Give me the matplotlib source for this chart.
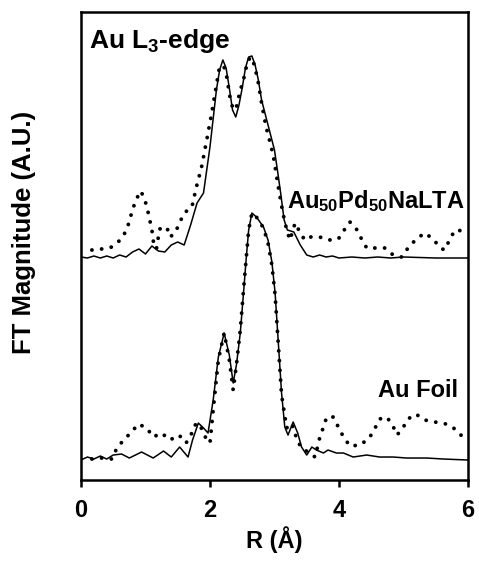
import matplotlib
matplotlib.use("Agg")
import matplotlib.pyplot as plt

plt.rcParams['font.family'] = ['Liberation Sans', 'DejaVu Sans']
plt.rcParams['font.weight'] = 'bold'
plt.rcParams['mathtext.fontset'] = 'custom'
plt.rcParams['mathtext.rm'] = 'Liberation Sans:bold'
plt.rcParams['mathtext.bf'] = 'Liberation Sans:bold'
plt.rcParams['mathtext.it'] = 'Liberation Sans:bold'

# Au50Pd50NaLTA (upper, offset) - solid and dotted traces
r_pd_solid = [0.0, 0.1, 0.2, 0.3, 0.4, 0.5, 0.6, 0.7, 0.8, 0.9, 1.0, 1.1, 1.2, 1.3,
              1.4, 1.5, 1.6, 1.7, 1.8, 1.9, 2.0, 2.1, 2.15, 2.2, 2.25, 2.3, 2.35,
              2.4, 2.45, 2.5, 2.55, 2.6, 2.65, 2.7, 2.75, 2.8, 2.9, 3.0, 3.05, 3.1,
              3.15, 3.2, 3.3, 3.4, 3.5, 3.6, 3.7, 3.8, 3.9, 4.0, 4.2, 4.4, 4.6, 4.8,
              5.0, 5.5, 6.0]
y_pd_solid = [0.00, -0.01, 0.01, -0.01, 0.01, -0.01, 0.02, 0.00, 0.05, 0.08, 0.03,
              0.11, 0.06, 0.05, 0.12, 0.15, 0.12, 0.32, 0.54, 0.64, 1.10, 1.67, 1.87,
              1.97, 1.89, 1.69, 1.47, 1.40, 1.52, 1.69, 1.89, 2.00, 2.01, 1.92, 1.77,
              1.57, 1.32, 1.07, 0.85, 0.62, 0.37, 0.27, 0.25, 0.12, 0.02, 0.00, 0.02,
              0.00, 0.01, -0.01, 0.00, -0.01, 0.00, -0.01, 0.00, -0.01, -0.01]

r_pd_dot = [0.17, 0.32, 0.48, 0.61, 0.71, 0.79, 0.85, 0.93, 1.0, 1.04, 1.1, 1.13,
            1.17, 1.22, 1.33, 1.38, 1.46, 1.52, 1.6, 1.72, 1.79, 1.87, 1.95, 2.03,
            2.14, 2.21, 2.26, 2.31, 2.36, 2.41, 2.46, 2.53, 2.58, 2.63, 2.69, 2.75,
            2.8, 2.87, 2.93, 2.98, 3.06, 3.13, 3.19, 3.24, 3.32, 3.4, 3.47, 3.55,
            3.7, 3.85, 3.99, 4.07, 4.17, 4.27, 4.35, 4.43, 4.71, 4.84, 4.97, 5.07,
            5.2, 5.33, 5.46, 5.57, 5.64, 5.72, 5.8, 5.93]
y_pd_dot = [0.07, 0.08, 0.10, 0.17, 0.27, 0.45, 0.57, 0.66, 0.55, 0.45, 0.27, 0.12,
            0.08, 0.28, 0.30, 0.20, 0.24, 0.33, 0.44, 0.50, 0.70, 0.90, 1.17, 1.45,
            1.87, 1.92, 1.80, 1.60, 1.47, 1.50, 1.64, 1.80, 1.95, 2.00, 1.92, 1.74,
            1.54, 1.30, 1.15, 1.02, 0.70, 0.44, 0.27, 0.17, 0.34, 0.24, 0.17, 0.20,
            0.20, 0.17, 0.18, 0.26, 0.35, 0.28, 0.18, 0.09, 0.09, 0.02, 0.00, 0.09,
            0.18, 0.24, 0.18, 0.09, 0.07, 0.18, 0.27, 0.26]

# Au foil (lower) - solid and dotted traces
r_foil_solid = [0.0, 0.1, 0.2, 0.3, 0.4, 0.5, 0.63, 0.75, 0.94, 1.12, 1.28, 1.4,
                1.53, 1.66, 1.73, 1.82, 1.9, 1.97, 2.05, 2.13, 2.22, 2.3, 2.36, 2.41,
                2.47, 2.52, 2.56, 2.6, 2.65, 2.72, 2.83, 2.9, 2.96, 3.01, 3.06, 3.11,
                3.16, 3.21, 3.29, 3.36, 3.42, 3.5, 3.58, 3.65, 3.76, 3.83, 3.96, 4.07,
                4.22, 4.43, 4.63, 4.84, 5.05, 5.36, 5.62, 6.0]
y_foil_solid = [0.00, 0.03, 0.01, 0.04, 0.01, 0.05, 0.06, 0.02, 0.08, 0.02, 0.09,
                0.03, 0.13, 0.03, 0.20, 0.37, 0.32, 0.27, 0.60, 1.03, 1.27, 1.05,
                0.77, 0.95, 1.27, 1.67, 2.00, 2.30, 2.47, 2.43, 2.33, 2.20, 1.98,
                1.67, 1.17, 0.67, 0.33, 0.25, 0.38, 0.27, 0.13, 0.05, 0.13, 0.10,
                0.07, 0.10, 0.07, 0.07, 0.03, 0.05, 0.03, 0.03, 0.02, 0.02, 0.01, 0.00]

r_foil_dot = [0.17, 0.32, 0.48, 0.55, 0.66, 0.77, 0.89, 1.02, 1.12, 1.25, 1.38, 1.52,
              1.63, 1.72, 1.77, 1.83, 1.95, 2.0, 2.05, 2.13, 2.22, 2.3, 2.36, 2.41,
              2.47, 2.52, 2.56, 2.6, 2.65, 2.72, 2.83, 2.9, 2.96, 3.01, 3.06, 3.11,
              3.19, 3.24, 3.29, 3.35, 3.42, 3.52, 3.63, 3.7, 3.76, 3.81, 3.91, 3.99,
              4.07, 4.17, 4.33, 4.47, 4.56, 4.63, 4.74, 4.83, 4.9, 4.99, 5.07, 5.19,
              5.33, 5.49, 5.66, 5.8, 5.92]
y_foil_dot = [0.01, 0.02, 0.01, 0.11, 0.20, 0.27, 0.36, 0.32, 0.23, 0.27, 0.20, 0.25,
              0.17, 0.27, 0.35, 0.37, 0.20, 0.17, 0.50, 1.00, 1.27, 1.00, 0.70, 0.95,
              1.30, 1.70, 2.00, 2.30, 2.47, 2.43, 2.32, 2.17, 1.95, 1.65, 1.15, 0.65,
              0.32, 0.37, 0.33, 0.20, 0.12, 0.08, 0.03, 0.22, 0.33, 0.43, 0.43, 0.33,
              0.23, 0.14, 0.15, 0.22, 0.32, 0.41, 0.43, 0.35, 0.25, 0.32, 0.41, 0.46,
              0.40, 0.38, 0.36, 0.31, 0.23]

offset_pd = 2.23
offset_foil = 0.20

fig = plt.figure(figsize=(4.79, 5.65), dpi=100)
ax = fig.add_axes([0.169, 0.1504, 0.808, 0.8284])

dots = dict(color='black', lw=2.8, linestyle=(0, (0.01, 2.5)), dash_capstyle='round')
ax.plot(r_pd_solid, [v + offset_pd for v in y_pd_solid], color='black', lw=1.1)
ax.plot(r_pd_dot, [v + offset_pd for v in y_pd_dot], **dots)
ax.plot(r_foil_solid, [v + offset_foil for v in y_foil_solid], color='black', lw=1.1)
ax.plot(r_foil_dot, [v + offset_foil for v in y_foil_dot], **dots)

ax.set_xlim(0, 6)
ax.set_ylim(0, 4.68)
ax.set_xticks([0, 2, 4, 6])
ax.set_yticks([])
for s in ax.spines.values():
    s.set_linewidth(1.8)
ax.tick_params(axis='x', direction='out', length=5, width=1.8, labelsize=17, pad=9)

ax.set_xlabel('R (Å)', fontsize=17, fontweight='bold', labelpad=3)
ax.set_ylabel('FT Magnitude (A.U.)', fontsize=18.5, fontweight='bold')
ax.yaxis.set_label_coords(-0.115, 0.53)

ax.text(0.13, 4.53, 'Au L$_\\mathbf{3}$-edge', fontsize=19, fontweight='bold',
        va='top', ha='left')
ax.text(3.2, 2.72, 'Au$_\\mathbf{50}$Pd$_\\mathbf{50}$NaLTA', fontsize=17,
        fontweight='bold', va='baseline', ha='left')
ax.text(5.85, 0.83, 'Au Foil', fontsize=17, fontweight='bold', va='baseline', ha='right')

fig.savefig('out.png', dpi=100)
